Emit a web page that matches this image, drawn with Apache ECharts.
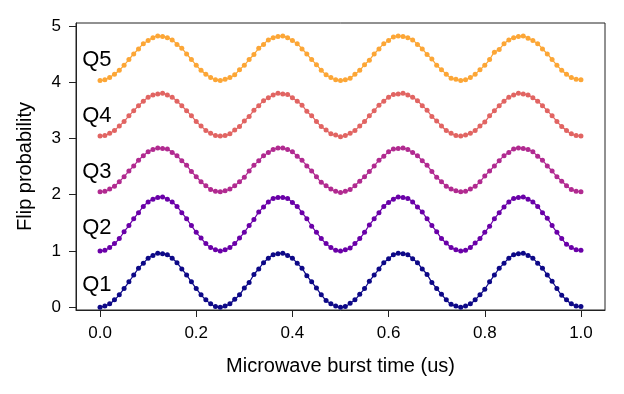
<!DOCTYPE html>
<html>
<head>
<meta charset="utf-8">
<script src="https://cdn.jsdelivr.net/npm/echarts@6/dist/echarts.min.js"></script>
<style>html,body{margin:0;padding:0;background:#fff}#c{width:624px;height:394px}</style>
</head>
<body>
<div id="c"></div>
<script>
const times = [0.00,0.01,0.02,0.03,0.04,0.05,0.06,0.07,0.08,0.09,0.10,0.11,0.12,0.13,0.14,0.15,0.16,0.17,0.18,0.19,0.20,0.21,0.22,0.23,0.24,
0.25,0.26,0.27,0.28,0.29,0.30,0.31,0.32,0.33,0.34,0.35,0.36,0.37,0.38,0.39,0.40,0.41,0.42,0.43,0.44,0.45,0.46,0.47,0.48,0.49,
0.50,0.51,0.52,0.53,0.54,0.55,0.56,0.57,0.58,0.59,0.60,0.61,0.62,0.63,0.64,0.65,0.66,0.67,0.68,0.69,0.70,0.71,0.72,0.73,0.74,
0.75,0.76,0.77,0.78,0.79,0.80,0.81,0.82,0.83,0.84,0.85,0.86,0.87,0.88,0.89,0.90,0.91,0.92,0.93,0.94,0.95,0.96,0.97,0.98,0.99,1.00];

const q1 = [0.00,0.02,0.06,0.13,0.22,0.33,0.45,0.57,0.69,0.78,0.87,0.92,0.96,0.95,0.93,0.87,0.79,0.68,0.57,0.45,0.33,0.22,0.13,0.06,0.01,
0.00,0.02,0.06,0.14,0.22,0.34,0.44,0.58,0.68,0.79,0.87,0.93,0.95,0.96,0.92,0.87,0.78,0.69,0.56,0.45,0.34,0.22,0.12,0.06,0.02,
0.00,0.01,0.07,0.13,0.23,0.33,0.46,0.57,0.68,0.79,0.86,0.93,0.96,0.95,0.93,0.86,0.79,0.68,0.58,0.44,0.33,0.23,0.13,0.05,0.02,
0.00,0.02,0.06,0.13,0.22,0.32,0.45,0.57,0.69,0.78,0.87,0.93,0.95,0.96,0.92,0.87,0.78,0.69,0.57,0.46,0.33,0.21,0.13,0.06,0.02,0.01];

const q2 = [1.00,1.01,1.06,1.13,1.22,1.34,1.45,1.57,1.68,1.79,1.87,1.92,1.95,1.96,1.92,1.87,1.79,1.68,1.57,1.45,1.33,1.23,1.13,1.06,1.02,
1.00,1.02,1.06,1.13,1.23,1.33,1.45,1.56,1.69,1.78,1.87,1.93,1.95,1.95,1.93,1.86,1.79,1.68,1.57,1.44,1.33,1.22,1.13,1.06,1.01,
1.00,1.02,1.05,1.13,1.22,1.33,1.46,1.57,1.68,1.79,1.86,1.92,1.96,1.95,1.93,1.87,1.78,1.69,1.57,1.45,1.34,1.22,1.14,1.06,1.02,
1.00,1.01,1.06,1.14,1.22,1.33,1.44,1.57,1.68,1.78,1.87,1.93,1.95,1.96,1.92,1.87,1.79,1.68,1.58,1.45,1.33,1.22,1.12,1.06,1.02,1.01];

const q3 = [2.05,2.06,2.10,2.15,2.23,2.32,2.42,2.51,2.61,2.69,2.76,2.80,2.83,2.82,2.81,2.75,2.69,2.60,2.52,2.41,2.32,2.23,2.16,2.09,2.06,
2.05,2.07,2.10,2.16,2.23,2.31,2.42,2.52,2.60,2.69,2.75,2.80,2.83,2.83,2.80,2.76,2.68,2.61,2.51,2.42,2.32,2.22,2.16,2.10,2.06,
2.04,2.06,2.09,2.16,2.24,2.32,2.41,2.51,2.61,2.68,2.76,2.81,2.82,2.83,2.80,2.75,2.69,2.60,2.52,2.41,2.31,2.23,2.15,2.10,2.07,
2.05,2.06,2.10,2.15,2.23,2.33,2.42,2.51,2.60,2.69,2.75,2.81,2.83,2.82,2.80,2.76,2.68,2.61,2.51,2.42,2.32,2.24,2.16,2.09,2.06,2.05];

const q4 = [3.04,3.05,3.09,3.14,3.22,3.30,3.40,3.49,3.58,3.66,3.73,3.77,3.79,3.80,3.77,3.73,3.66,3.58,3.49,3.40,3.30,3.22,3.14,3.09,3.05,
3.04,3.05,3.08,3.15,3.21,3.31,3.39,3.50,3.58,3.67,3.72,3.77,3.80,3.79,3.78,3.72,3.66,3.59,3.48,3.40,3.30,3.21,3.15,3.08,3.06,
3.03,3.05,3.09,3.14,3.22,3.30,3.40,3.49,3.59,3.66,3.73,3.78,3.79,3.80,3.77,3.73,3.67,3.58,3.50,3.39,3.31,3.22,3.14,3.09,3.05,
3.04,3.06,3.09,3.14,3.22,3.29,3.40,3.49,3.58,3.66,3.73,3.77,3.80,3.79,3.77,3.72,3.66,3.58,3.49,3.40,3.30,3.21,3.14,3.08,3.05,3.04];

const q5 = [4.03,4.04,4.08,4.14,4.21,4.30,4.40,4.50,4.59,4.68,4.74,4.79,4.82,4.81,4.79,4.75,4.67,4.60,4.50,4.40,4.30,4.21,4.14,4.08,4.04,
4.03,4.05,4.08,4.13,4.22,4.30,4.40,4.49,4.60,4.67,4.75,4.79,4.81,4.82,4.79,4.74,4.68,4.59,4.50,4.40,4.31,4.21,4.13,4.08,4.04,
4.03,4.04,4.07,4.14,4.21,4.31,4.39,4.50,4.59,4.68,4.74,4.80,4.82,4.81,4.79,4.75,4.67,4.59,4.49,4.41,4.30,4.22,4.14,4.07,4.05,
4.03,4.04,4.08,4.14,4.22,4.30,4.40,4.53,4.58,4.68,4.75,4.79,4.81,4.82,4.78,4.74,4.68,4.59,4.50,4.40,4.30,4.21,4.14,4.08,4.05,4.04];

const names = ['Q1','Q2','Q3','Q4','Q5'];
const labelY = [0.40,1.40,2.40,3.40,4.40];
const labelX = -0.037;
const colors = ['#0d0887','#6a00a8','#b12a90','#e16462','#fca636'];
const xTicks = [0,0.2,0.4,0.6,0.8,1.0];
const yTicks = [0,1,2,3,4,5];

const all = [q1,q2,q3,q4,q5];
const FONT = 'Liberation Sans';
const series = [];
all.forEach((arr, i) => {
  const pts = times.map((t, j) => [t, arr[j]]);
  series.push({type:'line', data: pts, smooth: 0.4, showSymbol:false, symbol:'none',
    lineStyle:{color: colors[i], width: 1.2}, z: 2, silent: true});
  series.push({type:'scatter', data: pts, symbol:'circle', symbolSize: 5,
    itemStyle:{color: colors[i], opacity: 1}, z: 3, silent: true});
});
series.push({type:'custom', silent: true, z: 10,
  data: names.map((n, i) => [labelX, labelY[i], i]),
  renderItem: (params, api) => {
    const p = api.coord([api.value(0), api.value(1)]);
    return {type:'text', x: p[0], y: p[1],
      style:{text: names[api.value(2)], fill:'#000', font: '22px "Liberation Sans"',
        textAlign:'left', textVerticalAlign:'middle'}};
  }});

const chart = echarts.init(document.getElementById('c'), null, {renderer:'canvas'});
chart.setOption({
  animation:false,
  backgroundColor:'#fff',
  grid:{left:76, right:19, top:23, bottom:84, show:true, borderColor:'#222', borderWidth:1, backgroundColor:'transparent'},
  xAxis:{type:'value', min:-0.05, max:1.05,
    name:'Microwave burst time (us)', nameLocation:'middle', nameGap:46,
    nameTextStyle:{color:'#000', fontSize:20, fontFamily:FONT},
    axisLine:{show:true, onZero:false, lineStyle:{color:'#222', width:1}},
    axisTick:{show:true, length:7, lineStyle:{color:'#222'}, customValues:xTicks},
    axisLabel:{color:'#000', fontSize:17, fontFamily:FONT, margin:15, customValues:xTicks,
      formatter: v => v.toFixed(1)},
    splitLine:{show:false}},
  yAxis:{type:'value', min:-0.05, max:5.05,
    name:'Flip probability', nameLocation:'middle', nameGap:41,
    nameTextStyle:{color:'#000', fontSize:20, fontFamily:FONT},
    axisLine:{show:true, onZero:false, lineStyle:{color:'#222', width:1}},
    axisTick:{show:true, length:7, lineStyle:{color:'#222'}, customValues:yTicks},
    axisLabel:{color:'#000', fontSize:17, fontFamily:FONT, margin:15, customValues:yTicks},
    splitLine:{show:false}},
  series: series
});
</script>
</body>
</html>
